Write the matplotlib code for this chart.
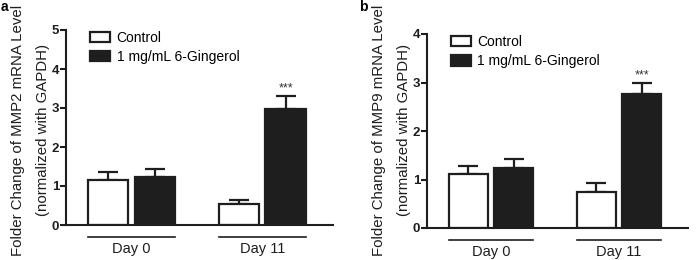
import numpy as np
import matplotlib
matplotlib.use("Agg")
import matplotlib.pyplot as plt
import matplotlib.transforms as mtransforms

plt.rcParams["font.family"] = ["Liberation Sans", "DejaVu Sans"]

groups = ["Day 0", "Day 11"]
series = ["Control", "1 mg/mL 6-Gingerol"]

# panel a: MMP2
mmp2_mean = {"Control": [1.15, 0.54], "1 mg/mL 6-Gingerol": [1.23, 2.97]}
mmp2_err = {"Control": [0.21, 0.10], "1 mg/mL 6-Gingerol": [0.20, 0.34]}
# panel b: MMP9
mmp9_mean = {"Control": [1.11, 0.74], "1 mg/mL 6-Gingerol": [1.24, 2.76]}
mmp9_err = {"Control": [0.17, 0.18], "1 mg/mL 6-Gingerol": [0.19, 0.22]}

W, H = 696, 260
fig = plt.figure(figsize=(W / 100, H / 100), dpi=100)

face = {"Control": "white", "1 mg/mL 6-Gingerol": "#1e1e1e"}
centers = np.array([1.3, 3.9])
offset = 0.46
bw = 0.8


def panel(left, right, top, bottom, ymax, means, errs, gene, letter, letter_x):
    ax = fig.add_axes([left / W, 1 - bottom / H, (right - left) / W, (bottom - top) / H])
    for i, s in enumerate(series):
        xs = centers + (i * 2 - 1) * offset
        ax.bar(xs, means[s], width=bw, color=face[s], edgecolor="#1e1e1e",
               linewidth=1.6, label=s, zorder=2)
        ax.errorbar(xs, means[s], yerr=[np.zeros(2), errs[s]], fmt="none",
                    ecolor="#1e1e1e", elinewidth=1.6, capsize=7, capthick=1.6, zorder=1)
    # significance stars over Day 11 gingerol
    g = series[1]
    ax.text(centers[1] + offset, means[g][1] + errs[g][1] + 0.01 * ymax, "***",
            ha="center", va="bottom", fontsize=9, color="#333333")
    ax.set_xlim(0, 5.3)
    ax.set_ylim(0, ymax)
    ax.set_yticks(range(ymax + 1))
    ax.set_xticks([])
    for sp in ["top", "right"]:
        ax.spines[sp].set_visible(False)
    for sp in ["left", "bottom"]:
        ax.spines[sp].set_linewidth(1.5)
        ax.spines[sp].set_color("#1e1e1e")
    ax.tick_params(axis="y", length=4, width=1.5, pad=1, labelsize=9.5, colors="#1e1e1e")
    for t in ax.get_yticklabels():
        t.set_fontweight("bold")
    # group lines and labels below the axis
    trans = mtransforms.blended_transform_factory(ax.transData, ax.transAxes)
    hpx = bottom - top
    for c, lab in zip(centers, groups):
        ax.plot([c - offset - bw / 2, c + offset + bw / 2], [-12 / hpx] * 2,
                transform=trans, color="#1e1e1e", lw=1.2, clip_on=False)
        ax.text(c, -17 / hpx, lab, transform=trans, ha="center", va="top",
                fontsize=10.5, color="#1e1e1e")
    ax.legend(loc="upper left", bbox_to_anchor=(0.07, 1.025), frameon=False,
              fontsize=10, handlelength=1.45, handleheight=0.75,
              handletextpad=0.45, labelspacing=0.4, borderaxespad=0)
    # y labels
    fig.text((left - 48) / W, 0.5, "Folder Change of %s mRNA Level" % gene,
             rotation=90, ha="center", va="center", fontsize=10.8, color="#1e1e1e")
    fig.text((left - 23) / W, 0.5, "(normalized with GAPDH)",
             rotation=90, ha="center", va="center", fontsize=10.8, color="#1e1e1e")
    fig.text(letter_x / W, 1 - 11 / H, letter, ha="right", va="baseline",
             fontsize=10, fontweight="bold")
    return ax


panel(66, 333, 30, 225, 5, mmp2_mean, mmp2_err, "MMP2", "a", 8)
panel(427, 688, 34, 228, 4, mmp9_mean, mmp9_err, "MMP9", "b", 368)

fig.savefig("out.png", dpi=100)
